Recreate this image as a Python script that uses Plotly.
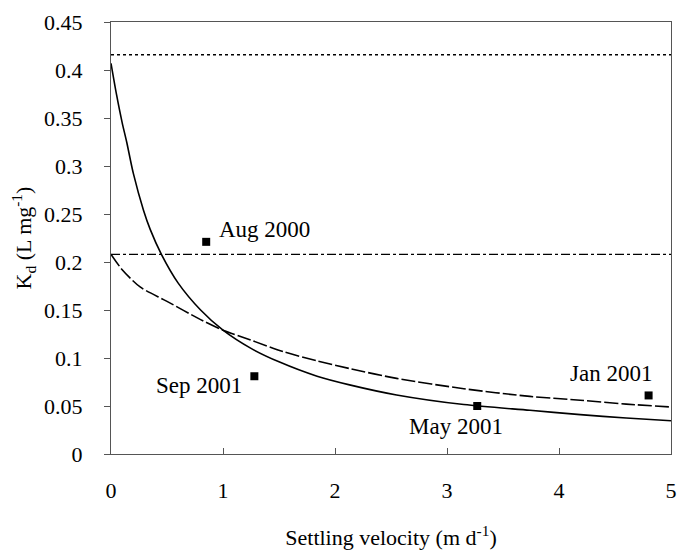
import plotly.graph_objects as go

# Solid curve
solid_x = [0.0, 0.05, 0.1, 0.14, 0.2, 0.29, 0.35, 0.45, 0.6, 0.8, 1.0, 1.25, 1.5, 1.84, 2.13, 2.55, 3.15, 3.74, 4.19, 4.6, 5.0]
solid_y = [0.407, 0.374, 0.345, 0.325, 0.292, 0.254, 0.234, 0.208, 0.178, 0.150, 0.129, 0.110, 0.096, 0.081, 0.072, 0.0615, 0.0515, 0.0455, 0.041, 0.0375, 0.0347]

# Dashed curve
dashed_x = [0.0, 0.1, 0.26, 0.5, 0.8, 1.0, 1.24, 1.54, 1.84, 2.13, 2.55, 3.15, 3.74, 4.19, 4.6, 5.0]
dashed_y = [0.208, 0.192, 0.174, 0.159, 0.140, 0.129, 0.119, 0.1066, 0.097, 0.089, 0.0788, 0.068, 0.060, 0.056, 0.052, 0.049]

# Horizontal reference lines
dotted_level = 0.416
dashdot_level = 0.208

# Observations
obs_labels = ["Aug 2000", "Sep 2001", "May 2001", "Jan 2001"]
obs_x = [0.85, 1.28, 3.27, 4.80]
obs_y = [0.221, 0.081, 0.050, 0.061]

FONT = "Liberation Serif, Times New Roman, serif"

fig = go.Figure()
fig.add_trace(go.Scatter(x=[0, 5], y=[dotted_level, dotted_level], mode="lines",
                         line=dict(color="black", width=1.5, dash="dot"), showlegend=False))
fig.add_trace(go.Scatter(x=[0, 5], y=[dashdot_level, dashdot_level], mode="lines",
                         line=dict(color="black", width=1.3, dash="dashdot"), showlegend=False))
fig.add_trace(go.Scatter(x=solid_x, y=solid_y, mode="lines",
                         line=dict(color="black", width=1.6, shape="spline", smoothing=0.8),
                         showlegend=False))
fig.add_trace(go.Scatter(x=dashed_x, y=dashed_y, mode="lines",
                         line=dict(color="black", width=1.6, dash="14px,3px", shape="spline", smoothing=0.8),
                         showlegend=False))
fig.add_trace(go.Scatter(x=obs_x, y=obs_y, mode="markers",
                         marker=dict(symbol="square", size=8, color="black"), showlegend=False))

label_pos = [
    dict(xanchor="left", yanchor="middle", xshift=11, yshift=12),
    dict(xanchor="right", yanchor="middle", xshift=-10, yshift=-9),
    dict(xanchor="center", yanchor="top", xshift=-21, yshift=-6),
    dict(xanchor="right", yanchor="middle", xshift=5, yshift=22),
]
for lab, x, y, p in zip(obs_labels, obs_x, obs_y, label_pos):
    fig.add_annotation(x=x, y=y, text=lab, showarrow=False,
                       font=dict(family=FONT, size=23, color="black"), **p)

fig.update_layout(
    width=681, height=550,
    margin=dict(l=111, r=10, t=22, b=96),
    plot_bgcolor="white", paper_bgcolor="white",
    font=dict(family=FONT, size=22, color="black"),
)
fig.update_xaxes(range=[0, 5], dtick=1, showgrid=False, zeroline=False, automargin=False,
                 showline=True, linecolor="#555", linewidth=1, mirror=True,
                 ticks="inside", ticklen=6, tickcolor="#555", ticklabelstandoff=17,
                 title=dict(text="Settling velocity (m d<sup>-1</sup>)", standoff=30,
                            font=dict(size=22)))
fig.update_yaxes(range=[0, 0.45], dtick=0.05, showgrid=False, zeroline=False, automargin=False,
                 showline=True, linecolor="#555", linewidth=1, mirror=True,
                 ticks="outside", ticklen=6, tickcolor="#555", ticklabelstandoff=17,
                 title=dict(text="K<sub>d</sub> (L mg<sup>-1</sup>)", standoff=6,
                            font=dict(size=22)))

fig.write_html("out.html")
